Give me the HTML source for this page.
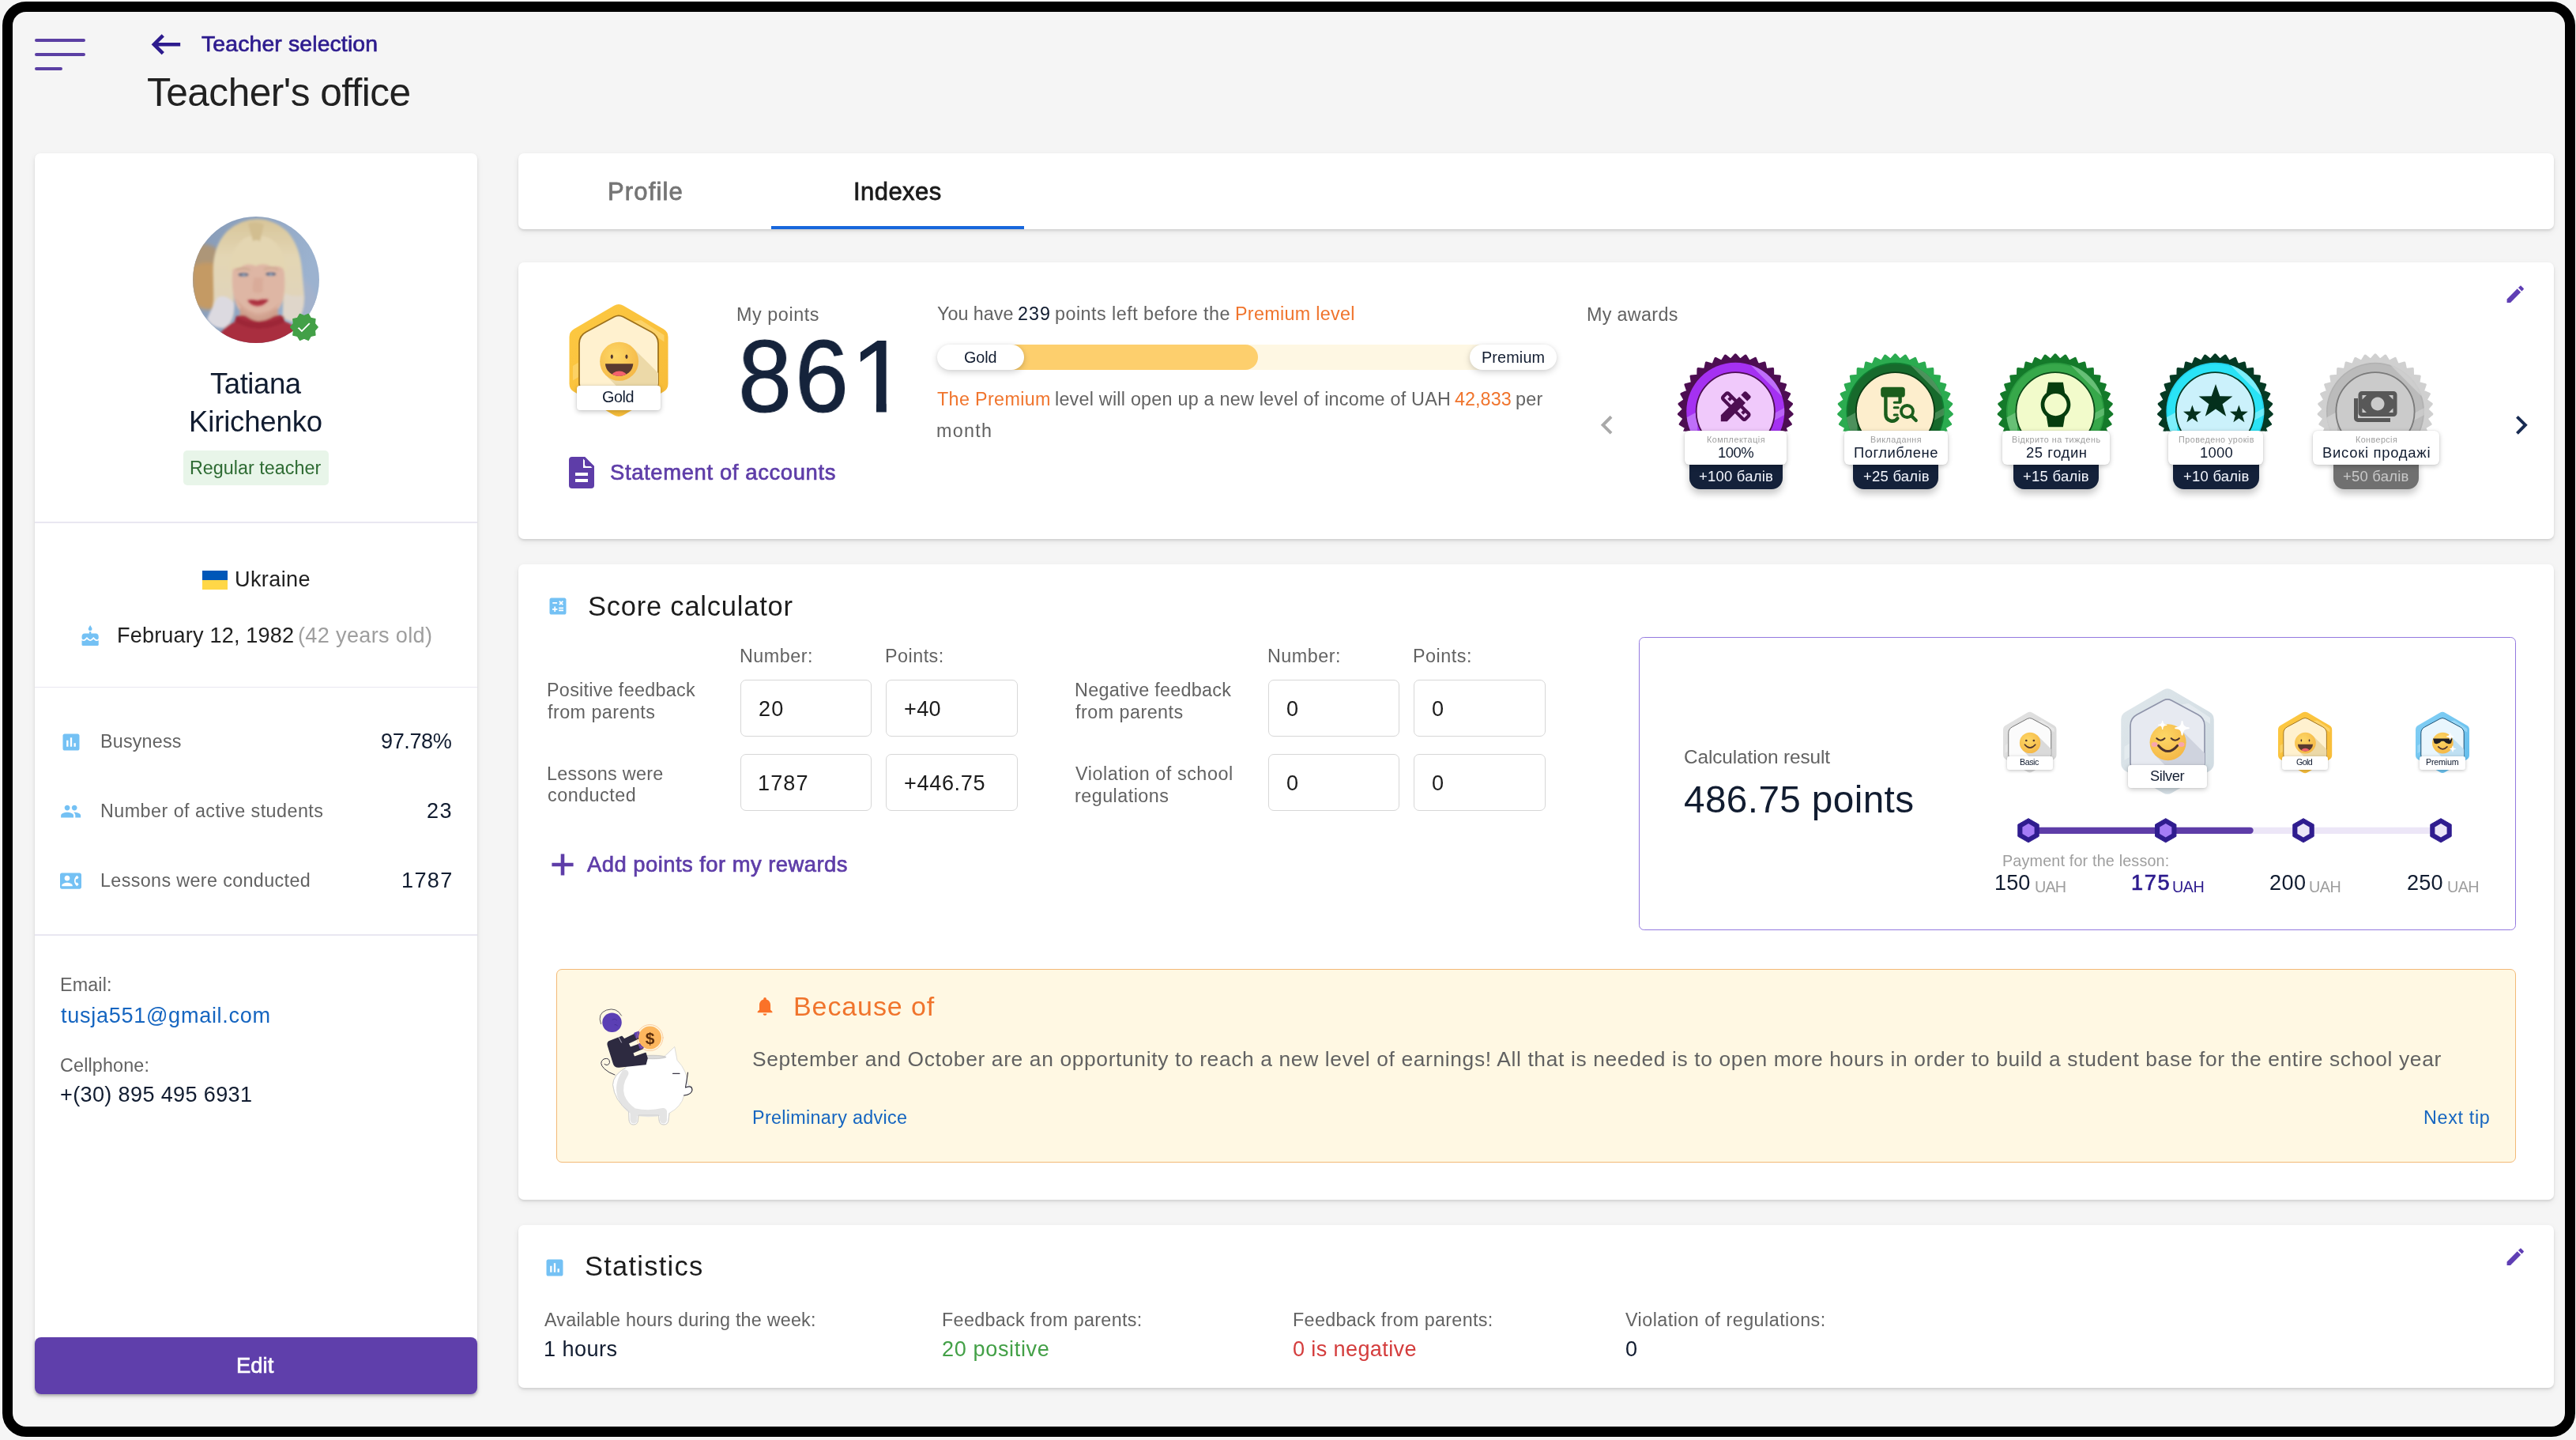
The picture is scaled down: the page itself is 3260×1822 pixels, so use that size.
<!DOCTYPE html>
<html lang="en"><head><meta charset="utf-8"><title>Teacher's office</title>
<style>
*{box-sizing:border-box;margin:0;padding:0}
html,body{width:3260px;height:1822px;overflow:hidden;background:#f5f5f5}
body{position:relative;font-family:"Liberation Sans",sans-serif;-webkit-font-smoothing:antialiased}
h1,h2{font-weight:400;font-size:inherit;display:inline}
.frame{position:absolute;left:3px;top:2px;width:3256px;height:1816px;border:13px solid #000;border-radius:30px;pointer-events:none;z-index:50}
.t{position:absolute;white-space:nowrap;line-height:1;display:block;will-change:transform}
svg{position:absolute;overflow:visible}
.nar{transform:scaleX(.94);transform-origin:0 0}
.one{clip-path:polygon(0 0,44.8px 0,44.8px 140px,32px 140px,32px 97.4px,0 97.4px)}
.card{position:absolute;background:#fff;border-radius:7px;box-shadow:0 2px 3px rgba(0,0,0,.10),0 3px 8px rgba(0,0,0,.07)}
.burger i{position:absolute;left:44px;height:3.9px;border-radius:2px;background:#5b3fa3}
.pill{position:absolute;background:#e8f5e9;border-radius:5px}
.hr{position:absolute;left:44px;width:560px;height:1.5px;background:#e9e7f1}
.flag{position:absolute;width:32px;height:24px;background:linear-gradient(#0057b8 50%,#ffd747 50%)}
.btn{position:absolute;background:#5f3fab;border-radius:8px;box-shadow:0 2px 4px rgba(0,0,0,.2)}
.ink{position:absolute;background:#1867dc}
.lab{position:absolute;background:#fff;border-radius:6px;box-shadow:0 2px 6px rgba(0,0,0,.22),0 0 2px rgba(0,0,0,.12)}
.lab.s{border-radius:3px;box-shadow:0 1px 4px rgba(0,0,0,.25)}
.tag{position:absolute;border-radius:0 0 14px 14px;box-shadow:0 6px 10px rgba(0,0,0,.22)}
.bar{position:absolute;border-radius:16px;background:#fef7e3;overflow:hidden}
.bar b{display:block;height:100%;background:#fdcf6d;border-radius:0 16px 16px 0}
.chip{position:absolute;background:#fff;border-radius:16px;box-shadow:0 3px 8px rgba(0,0,0,.17),0 0 5px rgba(0,0,0,.06)}
.inp{position:absolute;border:1.75px solid #d7d7d7;border-radius:7px;background:#fff}
.result{position:absolute;border:1.75px solid #9479df;border-radius:6.5px}
.tip{position:absolute;border:1.75px solid #f3b976;border-radius:7px;background:#fff8e3}
</style></head>
<body>

<header>
  <div class="burger"><i style="top:49px;width:64px"></i><i style="top:67px;width:64px"></i><i style="top:85px;width:35px"></i></div>
  <svg style="left:0;top:0" width="300" height="100" viewBox="0 0 300 100"><path d="M228.2 56.25H196 M206.3 44.8 L194.9 56.25 L206.3 67.7" fill="none" stroke="#2d1b8e" stroke-width="4.6" stroke-linejoin="miter"/></svg>
  <span class="t" style="left:254.50px;top:41.00px;font-size:28.42px;color:#2d1b8e;letter-spacing:0.124px;-webkit-text-stroke:0.7px #2d1b8e;">Teacher selection</span>
  <h1><span class="t" style="left:186.00px;top:93.25px;font-size:49.63px;color:#212121;letter-spacing:-0.549px;">Teacher&#x27;s office</span></h1>
</header>
<aside class="card" style="left:44px;top:194px;width:560px;height:1570px"></aside>
<section class="profile">
  <svg style="left:244px;top:274px" width="160" height="160" viewBox="244 274 160 160">
<defs><clipPath id="avc"><circle cx="324" cy="354" r="80"/></clipPath>
<filter id="avb" x="-20%" y="-20%" width="140%" height="140%"><feGaussianBlur stdDeviation="22"/></filter>
<filter id="avs" x="-20%" y="-20%" width="140%" height="140%"><feGaussianBlur stdDeviation="11"/></filter>
<linearGradient id="avbg" x1="0" y1="0" x2="1" y2=".3"><stop offset="0" stop-color="#8a9eba"/><stop offset="1" stop-color="#a2b9d6"/></linearGradient>
<linearGradient id="avh" x1="0" y1="0" x2="0" y2="1"><stop offset="0" stop-color="#e2cd9c"/><stop offset=".35" stop-color="#eedfb8"/><stop offset="1" stop-color="#e9dcc4"/></linearGradient></defs>
<g clip-path="url(#avc)"><rect x="244" y="274" width="160" height="160" fill="url(#avbg)"/>
<g transform="translate(234 264) scale(.125)">
<g filter="url(#avb)">
<path d="M60 420 Q200 380 330 420 L340 1000 Q200 1060 80 960Z" fill="#cd9f62"/>
<path d="M60 380 Q200 330 320 400 L320 560 Q180 520 60 600Z" fill="#b49a78"/>
<path d="M1180 700 Q1300 760 1360 1000 L1200 1200 L1150 1000Z" fill="#a9b8d2"/>
</g>
<g filter="url(#avs)">
<path d="M285 640 Q280 380 430 225 Q580 100 740 106 Q900 108 1040 235 Q1165 380 1185 620 L1210 900 Q1210 1060 1130 1140 Q1040 1150 990 1090 L1000 700 L480 700 L500 1000 Q500 1130 420 1200 Q300 1230 230 1120 Q300 1000 290 850Z" fill="url(#avh)"/>
<path d="M330 900 Q250 1050 225 1120 Q300 1230 420 1200 Q500 1120 500 960 Q420 860 330 900Z" fill="#e7e3e8"/>
<path d="M1010 860 Q1100 900 1195 880 Q1215 1060 1130 1140 Q1040 1150 990 1090Z" fill="#eadfd0"/>
<path d="M480 660 Q480 560 560 540 L940 540 Q1010 580 1010 700 Q1020 900 960 1000 Q860 1120 740 1118 Q620 1120 540 1010 Q470 900 480 660Z" fill="#e9bda7"/>
<path d="M520 900 Q560 1060 740 1118 Q900 1080 960 940 Q900 1040 740 1060 Q600 1040 520 900Z" fill="#e0ad98"/>
<path d="M440 640 Q450 420 600 300 Q720 240 860 300 Q1020 400 1030 640 Q960 560 880 590 Q800 540 720 580 Q620 540 560 600 Q480 600 440 640Z" fill="#efdfb6"/>
<path d="M640 150 Q720 120 800 160 L760 330 Q720 300 690 330Z" fill="#dcc592"/>
<path d="M560 1000 Q740 1180 940 1000 L950 1200 L550 1200Z" fill="#d9a58f"/>
<path d="M300 1440 Q340 1200 500 1150 L520 1090 Q600 1060 640 1100 Q740 1170 860 1110 Q940 1060 1000 1090 L1010 1140 Q1180 1200 1240 1440Z" fill="#b02b3b"/>
<path d="M520 1090 Q740 1220 1000 1090 L1010 1150 Q740 1280 510 1150Z" fill="#a32232"/>
</g>
<g filter="url(#avs)">
<ellipse cx="592" cy="668" rx="52" ry="17" fill="#56627e"/><ellipse cx="870" cy="662" rx="52" ry="17" fill="#56627e"/>
<ellipse cx="596" cy="672" rx="20" ry="13" fill="#8ea3c0"/><ellipse cx="870" cy="667" rx="20" ry="13" fill="#8ea3c0"/>
<path d="M520 620 Q590 590 660 620" stroke="#cfa98a" stroke-width="12" fill="none"/><path d="M800 615 Q870 585 945 618" stroke="#cfa98a" stroke-width="12" fill="none"/>
<path d="M700 700 Q680 800 690 840 Q740 870 790 838 Q780 800 790 700" fill="#e2ae98" opacity=".8"/>
<path d="M632 925 Q690 915 735 930 Q790 912 850 922 Q800 985 735 985 Q670 985 632 925Z" fill="#bb3140"/>
<path d="M650 935 Q735 965 835 930" stroke="#8f1f2c" stroke-width="7" fill="none"/>
</g>
</g>
<rect x="244" y="274" width="160" height="160" fill="#56607c" opacity=".07"/>
</g></svg>
  <svg style="left:365.50px;top:395.30px" width="37.80" height="37.80" viewBox="0 0 24 24" ><circle cx="12" cy="12" r="7" fill="#fff"/><path d="M23 12l-2.44-2.79.34-3.69-3.61-.82-1.89-3.2L12 2.96 8.6 1.5 6.71 4.69 3.1 5.5l.34 3.7L1 12l2.44 2.79-.34 3.7 3.61.82L8.6 22.5l3.4-1.47 3.4 1.46 1.89-3.19 3.61-.82-.34-3.69L23 12zm-12.91 4.72l-3.8-3.81 1.48-1.48 2.32 2.33 5.85-5.87 1.48 1.48-7.33 7.35z" fill="#43a047" stroke="#43a047" stroke-width=".9" stroke-linejoin="round"/></svg>
  <span class="t" style="left:266.25px;top:468.25px;font-size:36.54px;color:#111c30;letter-spacing:-0.455px;">Tatiana</span>
  <span class="t" style="left:239.00px;top:515.75px;font-size:36.54px;color:#111c30;letter-spacing:-0.166px;">Kirichenko</span>
  <div class="pill" style="left:232px;top:570px;width:183.75px;height:43.75px"></div>
  <span class="t" style="left:240.25px;top:581.00px;font-size:23.34px;color:#2e6b33;letter-spacing:0.020px;">Regular teacher</span>
  <div class="hr" style="top:660px"></div>
  <div class="flag" style="left:256px;top:722px"></div>
  <span class="t" style="left:296.75px;top:718.75px;font-size:27.1px;color:#212121;letter-spacing:0.368px;">Ukraine</span>
  <svg style="left:100.20px;top:791.25px" width="28.30" height="28.30" viewBox="0 0 24 24" ><path d="M12 6c1.11 0 2-.9 2-2 0-.38-.1-.73-.29-1.03L12 0l-1.71 2.97c-.19.3-.29.65-.29 1.03 0 1.1.9 2 2 2zm4.6 9.99l-1.07-1.07-1.08 1.07c-1.3 1.3-3.58 1.31-4.89 0l-1.07-1.07-1.09 1.07C6.75 16.64 5.88 17 4.96 17c-.73 0-1.4-.23-1.96-.61V21c0 .55.45 1 1 1h16c.55 0 1-.45 1-1v-4.61c-.56.38-1.23.61-1.96.61-.92 0-1.79-.36-2.44-1.01zM18 9h-5V7h-2v2H6c-1.66 0-3 1.34-3 3v1.54c0 1.08.88 1.96 1.96 1.96.52 0 1.02-.2 1.38-.57l2.14-2.13 2.13 2.13c.74.74 2.03.74 2.77 0l2.14-2.13 2.13 2.13c.37.37.86.57 1.38.57 1.08 0 1.96-.88 1.96-1.96V12C21 10.34 19.66 9 18 9z" fill="#74c1f4"/></svg>
  <span class="t" style="left:147.50px;top:789.50px;font-size:27.1px;color:#212121;letter-spacing:0.166px;">February 12, 1982</span>
  <span class="t" style="left:377.25px;top:789.50px;font-size:27.1px;color:#9e9e9e;letter-spacing:0.337px;">(42 years old)</span>
  <div class="hr" style="top:868.5px"></div>
  <svg style="left:75.50px;top:924.50px" width="28.00" height="28.00" viewBox="0 0 24 24" ><path d="M19 3H5c-1.1 0-2 .9-2 2v14c0 1.1.9 2 2 2h14c1.1 0 2-.9 2-2V5c0-1.1-.9-2-2-2zM9 17H7v-7h2v7zm4 0h-2V7h2v10zm4 0h-2v-4h2v4z" fill="#74c1f4"/></svg>
  <span class="t" style="left:127.00px;top:926.50px;font-size:23.34px;color:#626262;letter-spacing:0.182px;">Busyness</span>
  <span class="t" style="left:481.50px;top:923.75px;font-size:27.1px;color:#111c30;letter-spacing:-0.410px;">97.78%</span>
  <svg style="left:75.86px;top:1012.57px" width="27.30" height="27.30" viewBox="0 0 24 24" ><path d="M16 11c1.66 0 2.99-1.34 2.99-3S17.66 5 16 5c-1.66 0-3 1.34-3 3s1.34 3 3 3zm-8 0c1.66 0 2.99-1.34 2.99-3S9.66 5 8 5C6.34 5 5 6.34 5 8s1.34 3 3 3zm0 2c-2.33 0-7 1.17-7 3.5V19h14v-2.5c0-2.33-4.67-3.5-7-3.5zm8 0c-.29 0-.62.02-.97.05 1.16.84 1.97 1.97 1.97 3.45V19h6v-2.5c0-2.33-4.67-3.5-7-3.5z" fill="#74c1f4"/></svg>
  <span class="t" style="left:127.00px;top:1014.75px;font-size:23.34px;color:#626262;letter-spacing:0.455px;">Number of active students</span>
  <span class="t" style="left:540.25px;top:1012.00px;font-size:27.1px;color:#111c30;letter-spacing:1.432px;">23</span>
  <svg style="left:76.00px;top:1100.90px" width="27.00" height="27.00" viewBox="0 0 24 24" ><path d="M22 3H2C.9 3 0 3.9 0 5v14c0 1.1.9 2 2 2h20c1.1 0 1.99-.9 1.99-2L24 5c0-1.1-.9-2-2-2zM8 6c1.66 0 3 1.34 3 3s-1.34 3-3 3-3-1.34-3-3 1.34-3 3-3zm6 12H2v-1c0-2 4-3.1 6-3.1s6 1.1 6 3.1v1zm3.85-4h1.64L21 16l-1.99 1.99c-1.31-.98-2.28-2.38-2.73-3.99-.18-.64-.28-1.31-.28-2s.1-1.36.28-2c.45-1.62 1.42-3.01 2.73-3.99L21 8l-1.51 2h-1.64c-.22.63-.35 1.3-.35 2s.13 1.37.35 2z" fill="#74c1f4"/></svg>
  <span class="t" style="left:127.00px;top:1103.00px;font-size:23.34px;color:#626262;letter-spacing:0.365px;">Lessons were conducted</span>
  <span class="t" style="left:508.00px;top:1100.00px;font-size:27.1px;color:#111c30;letter-spacing:1.348px;">1787</span>
  <div class="hr" style="top:1182px"></div>
  <span class="t" style="left:76.00px;top:1234.75px;font-size:23.34px;color:#626262;letter-spacing:0.134px;">Email:</span>
  <span class="t" style="left:76.50px;top:1270.75px;font-size:27.1px;color:#1565c0;letter-spacing:0.687px;">tusja551@gmail.com</span>
  <span class="t" style="left:76.00px;top:1337.25px;font-size:23.34px;color:#626262;letter-spacing:0.160px;">Cellphone:</span>
  <span class="t" style="left:76.00px;top:1371.25px;font-size:27.1px;color:#111c30;letter-spacing:0.341px;">+(30) 895 495 6931</span>
  <div class="btn" style="left:44px;top:1692px;width:560px;height:72px"></div>
  <span class="t" style="left:299.25px;top:1713.75px;font-size:27.4px;color:#fff;letter-spacing:0.054px;-webkit-text-stroke:0.7px #fff;">Edit</span>
</section>
<nav class="card" style="left:656px;top:194px;width:2576px;height:96px"></nav>
<div class="tabs">
  <span class="t" style="left:768.50px;top:227.50px;font-size:30.96px;color:#757575;letter-spacing:1.163px;-webkit-text-stroke:0.8px #757575;">Profile</span>
  <span class="t" style="left:1080.00px;top:227.50px;font-size:30.96px;color:#1a1a1a;letter-spacing:0.469px;-webkit-text-stroke:0.8px #1a1a1a;">Indexes</span>
  <div class="ink" style="left:976px;top:286px;width:320px;height:4px"></div>
</div>
<section class="card" style="left:656px;top:332px;width:2576px;height:350px"></section>
<section class="points">
  <svg style="left:0;top:0" width="3260" height="1200" viewBox="0 0 3260 1200"><defs><linearGradient id="hg1" x1="0" y1="0" x2="1" y2="1"><stop offset="0" stop-color="#fdc942"/><stop offset="1" stop-color="#f7bb38"/></linearGradient><radialGradient id="hg1e" cx=".4" cy=".35" r=".75"><stop offset="0" stop-color="#fdd766"/><stop offset="1" stop-color="#f4b544"/></radialGradient><clipPath id="hg1c"><path d="M777.50 400.79 Q783.00 397.82 788.50 400.79 L824.20 420.02 Q833.00 424.76 833.00 434.76 L833.00 484.88 Q833.00 493.63 824.25 493.63 L741.75 493.63 Q733.00 493.63 733.00 484.88 L733.00 434.76 Q733.00 424.76 741.80 420.02Z"/></clipPath></defs><path d="M777.06 386.74 Q783.00 383.28 788.94 386.74 L839.56 416.18 Q845.50 419.64 845.50 426.52 L845.50 485.48 Q845.50 492.36 839.56 495.82 L788.94 525.26 Q783.00 528.72 777.06 525.26 L726.44 495.82 Q720.50 492.36 720.50 485.48 L720.50 426.52 Q720.50 419.64 726.44 416.18Z" fill="url(#hg1)"/><path d="M811.12 404.88 L840.50 424.05 L840.50 432.57 L801.75 406.30Z" fill="#fde08a" opacity=".55"/><path d="M724.88 463.10 L731.75 458.84 V477.30 L724.88 481.56Z" fill="#fde08a" opacity=".5"/><path d="M777.50 400.79 Q783.00 397.82 788.50 400.79 L824.20 420.02 Q833.00 424.76 833.00 434.76 L833.00 484.88 Q833.00 493.63 824.25 493.63 L741.75 493.63 Q733.00 493.63 733.00 484.88 L733.00 434.76 Q733.00 424.76 741.80 420.02Z" fill="#fff1cf" stroke="#9c701c" stroke-width="1.75" stroke-linejoin="round"/><g clip-path="url(#hg1c)"><path d="M800.95 439.93 L988.45 627.43 L953.80 662.07 L766.30 474.57Z" fill="#ecd9a8"/></g><circle cx="783.62" cy="457.25" r="24.50" fill="url(#hg1e)"/><ellipse cx="774.32" cy="451.37" rx="1.52" ry="2.82" fill="#4e342e"/><ellipse cx="792.93" cy="451.37" rx="1.52" ry="2.82" fill="#4e342e"/><clipPath id="hg1m"><path d="M765.99 460.19 H801.26 A17.64 16.17 0 0 1 765.99 460.19Z"/></clipPath><path d="M765.99 460.19 H801.26 A17.64 16.17 0 0 1 765.99 460.19Z" fill="#5a3a30"/><ellipse clip-path="url(#hg1m)" cx="783.62" cy="476.85" rx="10.29" ry="7.35" fill="#f3616d"/></svg>
  <div class="lab" style="left:730px;top:488px;width:105.75px;height:30.75px;border-radius:4px"></div>
  <span class="t" style="left:762.25px;top:492.75px;font-size:19.79px;color:#111c30;letter-spacing:-0.428px;">Gold</span>
  <span class="t" style="left:932.00px;top:386.50px;font-size:23.34px;color:#626262;letter-spacing:0.573px;">My points</span>
  <span class="t nar" style="left:934.40px;top:411.75px;font-size:129.92px;color:#15233b;-webkit-text-stroke:1.1px #15233b;">8</span><span class="t nar" style="left:1006.20px;top:411.75px;font-size:129.92px;color:#15233b;-webkit-text-stroke:1.1px #15233b;">6</span><span class="t one" style="left:1077.30px;top:411.75px;font-size:129.92px;color:#15233b;-webkit-text-stroke:1.1px #15233b;">1</span>
  <svg style="left:720px;top:578px" width="32" height="40" viewBox="0 0 32 40"><path d="M4 0H20L32 12V36a4 4 0 0 1-4 4H4a4 4 0 0 1-4-4V4a4 4 0 0 1 4-4z" fill="#5e3da8"/><path d="M18 2.5V14H29.5z" fill="#fff"/><path d="M20 0L32 12H22a2 2 0 0 1-2-2z" fill="#5e3da8"/><rect x="8" y="20" width="16" height="4" fill="#fff"/><rect x="8" y="28" width="16" height="4" fill="#fff"/></svg>
  <span class="t" style="left:771.50px;top:584.00px;font-size:27.4px;color:#5e3da8;letter-spacing:0.645px;-webkit-text-stroke:0.7px #5e3da8;">Statement of accounts</span>
  <span class="t" style="left:1186.25px;top:386.00px;font-size:23.34px;color:#626262;letter-spacing:0.006px;">You have</span>
  <span class="t" style="left:1288.25px;top:386.00px;font-size:23.34px;color:#111c30;letter-spacing:1.026px;">239</span>
  <span class="t" style="left:1335.25px;top:386.00px;font-size:23.34px;color:#626262;letter-spacing:0.480px;">points left before the</span>
  <span class="t" style="left:1562.75px;top:386.00px;font-size:23.34px;color:#f0742c;letter-spacing:0.304px;">Premium level</span>
  <div class="bar" style="left:1200px;top:436.25px;width:766px;height:31.25px"><b style="width:392px"></b></div>
  <div class="chip" style="left:1186.25px;top:436.25px;width:109.75px;height:31.25px"></div>
  <div class="chip" style="left:1859.7px;top:436.25px;width:110px;height:31.25px"></div>
  <span class="t" style="left:1220.25px;top:442.75px;font-size:19.79px;color:#111c30;letter-spacing:-0.094px;">Gold</span>
  <span class="t" style="left:1874.75px;top:442.75px;font-size:19.79px;color:#111c30;letter-spacing:0.149px;">Premium</span>
  <span class="t" style="left:1186.25px;top:494.00px;font-size:23.34px;color:#f0742c;letter-spacing:0.343px;">The Premium</span>
  <span class="t" style="left:1334.75px;top:494.00px;font-size:23.34px;color:#626262;letter-spacing:0.232px;">level will open up a new level of income of UAH</span>
  <span class="t" style="left:1840.90px;top:494.00px;font-size:23.34px;color:#f0742c;letter-spacing:0.065px;">42,833</span>
  <span class="t" style="left:1918.00px;top:494.00px;font-size:23.34px;color:#626262;letter-spacing:0.326px;">per</span>
  <span class="t" style="left:1185.25px;top:534.25px;font-size:23.34px;color:#626262;letter-spacing:1.285px;">month</span>
  <span class="t" style="left:2008.25px;top:386.75px;font-size:23.34px;color:#626262;letter-spacing:0.329px;">My awards</span>
  <svg style="left:3168.60px;top:357.50px" width="28.50" height="28.50" viewBox="0 0 24 24" ><path d="M3 17.25V21h3.750L17.810 9.940l-3.750-3.750L3 17.250zM20.710 7.040c.39-.39.39-1.020 0-1.410l-2.340-2.340c-.39-.39-1.020-.39-1.410 0l-1.830 1.830 3.750 3.750 1.830-1.830z" fill="#5f3eb4"/></svg>
  <svg style="left:2009.50px;top:514.25px" width="47.40" height="47.40" viewBox="0 0 24 24" ><path d="M15.41 7.41L14 6l-6 6 6 6 1.41-1.41L10.83 12z" fill="#a9a9a9"/></svg>
  <svg style="left:3166.80px;top:514.20px" width="47.60" height="47.60" viewBox="0 0 24 24" ><path d="M10 6L8.59 7.41 13.17 12l-4.58 4.59L10 18l6-6z" fill="#182b52"/></svg>
  <svg style="left:0;top:0" width="3260" height="700" viewBox="0 0 3260 700"><defs><clipPath id="awc0"><rect x="2116.25" y="440" width="160" height="105.5"/></clipPath><clipPath id="awc0r"><path fill-rule="evenodd" d="M2134.25 520.75 a62 62 0 1 0 124 0 a62 62 0 1 0 -124 0z M2145.75 520.75 a50.5 50.5 0 1 0 101 0 a50.5 50.5 0 1 0 -101 0z"/></clipPath></defs><g clip-path="url(#awc0)"><polygon points="2196.25,448.95 2202.13,455.41 2209.07,450.10 2213.70,457.51 2221.48,453.53 2224.71,461.65 2233.08,459.11 2234.81,467.68 2243.49,466.68 2243.67,475.42 2252.39,475.98 2251.00,484.61 2259.48,486.73 2256.57,494.97 2264.54,498.56 2260.21,506.15 2267.40,511.11 2261.78,517.81 2267.98,523.97 2261.26,529.56 2266.25,536.73 2258.64,541.02 2262.27,548.97 2254.02,551.84 2256.17,560.30 2247.54,561.65 2248.15,570.37 2239.41,570.15 2238.45,578.84 2229.90,577.06 2227.40,585.44 2219.30,582.17 2215.35,589.96 2207.96,585.30 2202.69,592.26 2196.25,586.35 2189.81,592.26 2184.54,585.30 2177.15,589.96 2173.20,582.17 2165.10,585.44 2162.60,577.06 2154.05,578.84 2153.09,570.15 2144.35,570.37 2144.96,561.65 2136.33,560.30 2138.48,551.84 2130.23,548.97 2133.86,541.02 2126.25,536.73 2131.24,529.56 2124.52,523.97 2130.72,517.81 2125.10,511.11 2132.29,506.15 2127.96,498.56 2135.93,494.97 2133.02,486.73 2141.50,484.61 2140.11,475.98 2148.83,475.42 2149.01,466.68 2157.69,467.68 2159.42,459.11 2167.79,461.65 2171.02,453.53 2178.80,457.51 2183.43,450.10 2190.37,455.41" fill="#4d0e52" stroke="#4d0e52" stroke-width="3.2" stroke-linejoin="round"/><circle cx="2196.25" cy="520.75" r="62" fill="#a531f2"/><circle cx="2196.25" cy="520.75" r="60.3" fill="#a531f2"/><g clip-path="url(#awc0r)" fill="#c884fb" opacity=".75"><path d="M2204.25 450.75 l14 0 l50 50 l0 14z"/><path d="M2226.25 450.75 l7 0 l40 40 l0 7z" opacity=".7"/><path d="M2242.25 524.75 l22 -12 l0 9 l-22 12z" opacity=".8"/><path d="M2126.25 532.75 l22 -12 l0 28 l-22 12z"/></g><circle cx="2196.25" cy="520.75" r="49.6" fill="#f0c9fb" stroke="#4d0e52" stroke-width="1.8"/><g transform="translate(2171.50 488.95) scale(2.1042)"><path d="M16.24 11.51l1.57-1.57-3.75-3.75-1.57 1.57-4.14-4.13c-.78-.78-2.05-.78-2.83 0l-1.9 1.9c-.78.78-.78 2.05 0 2.83l4.13 4.13L3 17.25V21h3.750l4.760-4.760 4.130 4.130c.95.95 2.230.6 2.830 0l1.900-1.900c.78-.78.78-2.050 0-2.830l-4.130-4.130zM9.180 11.070L5.040 6.940l1.890-1.900L8.200 6.310 7.020 7.500l1.410 1.410 1.190-1.190 1.450 1.450-1.890 1.900zm7.880 7.890l-4.130-4.130 1.900-1.900 1.450 1.450-1.190 1.190 1.410 1.410 1.190-1.190 1.270 1.270-1.900 1.900zM20.710 7.040c.39-.39.39-1.020 0-1.410l-2.340-2.340c-.47-.47-1.120-.29-1.410 0l-1.830 1.830 3.750 3.750 1.830-1.830z" fill="#4d0e52"/></g></g></svg>
  <svg style="left:0;top:0" width="3260" height="700" viewBox="0 0 3260 700"><defs><clipPath id="awc1"><rect x="2318.5" y="440" width="160" height="105.5"/></clipPath><clipPath id="awc1r"><path fill-rule="evenodd" d="M2336.5 520.75 a62 62 0 1 0 124 0 a62 62 0 1 0 -124 0z M2348.0 520.75 a50.5 50.5 0 1 0 101 0 a50.5 50.5 0 1 0 -101 0z"/></clipPath></defs><g clip-path="url(#awc1)"><polygon points="2398.50,448.95 2404.38,455.41 2411.32,450.10 2415.95,457.51 2423.73,453.53 2426.96,461.65 2435.33,459.11 2437.06,467.68 2445.74,466.68 2445.92,475.42 2454.64,475.98 2453.25,484.61 2461.73,486.73 2458.82,494.97 2466.79,498.56 2462.46,506.15 2469.65,511.11 2464.03,517.81 2470.23,523.97 2463.51,529.56 2468.50,536.73 2460.89,541.02 2464.52,548.97 2456.27,551.84 2458.42,560.30 2449.79,561.65 2450.40,570.37 2441.66,570.15 2440.70,578.84 2432.15,577.06 2429.65,585.44 2421.55,582.17 2417.60,589.96 2410.21,585.30 2404.94,592.26 2398.50,586.35 2392.06,592.26 2386.79,585.30 2379.40,589.96 2375.45,582.17 2367.35,585.44 2364.85,577.06 2356.30,578.84 2355.34,570.15 2346.60,570.37 2347.21,561.65 2338.58,560.30 2340.73,551.84 2332.48,548.97 2336.11,541.02 2328.50,536.73 2333.49,529.56 2326.77,523.97 2332.97,517.81 2327.35,511.11 2334.54,506.15 2330.21,498.56 2338.18,494.97 2335.27,486.73 2343.75,484.61 2342.36,475.98 2351.08,475.42 2351.26,466.68 2359.94,467.68 2361.67,459.11 2370.04,461.65 2373.27,453.53 2381.05,457.51 2385.68,450.10 2392.62,455.41" fill="#2bab50" stroke="#2bab50" stroke-width="3.2" stroke-linejoin="round"/><circle cx="2398.5" cy="520.75" r="62" fill="#0f7d31"/><circle cx="2398.5" cy="520.75" r="60.3" fill="#176a2c"/><g clip-path="url(#awc1r)" fill="#5f9f6c" opacity=".75"><path d="M2406.5 450.75 l14 0 l50 50 l0 14z"/><path d="M2428.5 450.75 l7 0 l40 40 l0 7z" opacity=".7"/><path d="M2444.5 524.75 l22 -12 l0 9 l-22 12z" opacity=".8"/><path d="M2328.5 532.75 l22 -12 l0 28 l-22 12z"/></g><circle cx="2398.5" cy="520.75" r="49.6" fill="#fdeecd" stroke="#0b3d14" stroke-width="1.8"/><g fill="none" stroke="#1b5e1c" stroke-linecap="round"><rect x="2380.2" y="489.7" width="30.6" height="12.8" rx="3.6" fill="#1b5e1c" stroke="none"/><path d="M2386.3999999999996 501.7 V524.7 a8.3 8.3 0 0 0 15 4.6" stroke-width="4.4"/><path d="M2404.6 501.7 V508.2" stroke-width="4.4"/><path d="M2397.2 509.3 H2404.3999999999996 M2397.2 515.7 H2402.2 M2397.2 524.9 H2401.2" stroke-width="3"/><circle cx="2413.5" cy="520.5" r="7.5" stroke-width="3.8"/><path d="M2418.7999999999997 526.1 L2424.7999999999997 532.1" stroke-width="4.2"/></g></g></svg>
  <svg style="left:0;top:0" width="3260" height="700" viewBox="0 0 3260 700"><defs><clipPath id="awc2"><rect x="2521" y="440" width="160" height="105.5"/></clipPath><clipPath id="awc2r"><path fill-rule="evenodd" d="M2539 520.75 a62 62 0 1 0 124 0 a62 62 0 1 0 -124 0z M2550.5 520.75 a50.5 50.5 0 1 0 101 0 a50.5 50.5 0 1 0 -101 0z"/></clipPath></defs><g clip-path="url(#awc2)"><polygon points="2601.00,448.95 2606.88,455.41 2613.82,450.10 2618.45,457.51 2626.23,453.53 2629.46,461.65 2637.83,459.11 2639.56,467.68 2648.24,466.68 2648.42,475.42 2657.14,475.98 2655.75,484.61 2664.23,486.73 2661.32,494.97 2669.29,498.56 2664.96,506.15 2672.15,511.11 2666.53,517.81 2672.73,523.97 2666.01,529.56 2671.00,536.73 2663.39,541.02 2667.02,548.97 2658.77,551.84 2660.92,560.30 2652.29,561.65 2652.90,570.37 2644.16,570.15 2643.20,578.84 2634.65,577.06 2632.15,585.44 2624.05,582.17 2620.10,589.96 2612.71,585.30 2607.44,592.26 2601.00,586.35 2594.56,592.26 2589.29,585.30 2581.90,589.96 2577.95,582.17 2569.85,585.44 2567.35,577.06 2558.80,578.84 2557.84,570.15 2549.10,570.37 2549.71,561.65 2541.08,560.30 2543.23,551.84 2534.98,548.97 2538.61,541.02 2531.00,536.73 2535.99,529.56 2529.27,523.97 2535.47,517.81 2529.85,511.11 2537.04,506.15 2532.71,498.56 2540.68,494.97 2537.77,486.73 2546.25,484.61 2544.86,475.98 2553.58,475.42 2553.76,466.68 2562.44,467.68 2564.17,459.11 2572.54,461.65 2575.77,453.53 2583.55,457.51 2588.18,450.10 2595.12,455.41" fill="#147a2a" stroke="#147a2a" stroke-width="3.2" stroke-linejoin="round"/><circle cx="2601" cy="520.75" r="62" fill="#2a9a40"/><circle cx="2601" cy="520.75" r="60.3" fill="#37a84a"/><g clip-path="url(#awc2r)" fill="#79c886" opacity=".75"><path d="M2609 450.75 l14 0 l50 50 l0 14z"/><path d="M2631 450.75 l7 0 l40 40 l0 7z" opacity=".7"/><path d="M2647 524.75 l22 -12 l0 9 l-22 12z" opacity=".8"/><path d="M2531 532.75 l22 -12 l0 28 l-22 12z"/></g><circle cx="2601" cy="520.75" r="49.6" fill="#f2fbcb" stroke="#0c4a18" stroke-width="1.8"/><g transform="translate(2573.25 483.75) scale(2.3542)"><path d="M20 12c0-2.54-1.19-4.81-3.04-6.27L16 0H8l-.95 5.73C5.19 7.19 4 9.45 4 12s1.19 4.81 3.05 6.27L8 24h8l.96-5.73C18.81 16.81 20 14.54 20 12zM6 12c0-3.31 2.69-6 6-6s6 2.69 6 6-2.69 6-6 6-6-2.69-6-6z" fill="#063d0e"/></g></g></svg>
  <svg style="left:0;top:0" width="3260" height="700" viewBox="0 0 3260 700"><defs><clipPath id="awc3"><rect x="2723.4" y="440" width="160" height="105.5"/></clipPath><clipPath id="awc3r"><path fill-rule="evenodd" d="M2741.4 520.75 a62 62 0 1 0 124 0 a62 62 0 1 0 -124 0z M2752.9 520.75 a50.5 50.5 0 1 0 101 0 a50.5 50.5 0 1 0 -101 0z"/></clipPath></defs><g clip-path="url(#awc3)"><polygon points="2803.40,448.95 2809.28,455.41 2816.22,450.10 2820.85,457.51 2828.63,453.53 2831.86,461.65 2840.23,459.11 2841.96,467.68 2850.64,466.68 2850.82,475.42 2859.54,475.98 2858.15,484.61 2866.63,486.73 2863.72,494.97 2871.69,498.56 2867.36,506.15 2874.55,511.11 2868.93,517.81 2875.13,523.97 2868.41,529.56 2873.40,536.73 2865.79,541.02 2869.42,548.97 2861.17,551.84 2863.32,560.30 2854.69,561.65 2855.30,570.37 2846.56,570.15 2845.60,578.84 2837.05,577.06 2834.55,585.44 2826.45,582.17 2822.50,589.96 2815.11,585.30 2809.84,592.26 2803.40,586.35 2796.96,592.26 2791.69,585.30 2784.30,589.96 2780.35,582.17 2772.25,585.44 2769.75,577.06 2761.20,578.84 2760.24,570.15 2751.50,570.37 2752.11,561.65 2743.48,560.30 2745.63,551.84 2737.38,548.97 2741.01,541.02 2733.40,536.73 2738.39,529.56 2731.67,523.97 2737.87,517.81 2732.25,511.11 2739.44,506.15 2735.11,498.56 2743.08,494.97 2740.17,486.73 2748.65,484.61 2747.26,475.98 2755.98,475.42 2756.16,466.68 2764.84,467.68 2766.57,459.11 2774.94,461.65 2778.17,453.53 2785.95,457.51 2790.58,450.10 2797.52,455.41" fill="#053a24" stroke="#053a24" stroke-width="3.2" stroke-linejoin="round"/><circle cx="2803.4" cy="520.75" r="62" fill="#22d0ea"/><circle cx="2803.4" cy="520.75" r="60.3" fill="#2ae3f6"/><g clip-path="url(#awc3r)" fill="#9af4fc" opacity=".75"><path d="M2811.4 450.75 l14 0 l50 50 l0 14z"/><path d="M2833.4 450.75 l7 0 l40 40 l0 7z" opacity=".7"/><path d="M2849.4 524.75 l22 -12 l0 9 l-22 12z" opacity=".8"/><path d="M2733.4 532.75 l22 -12 l0 28 l-22 12z"/></g><circle cx="2803.4" cy="520.75" r="49.6" fill="#cbf1fb" stroke="#053a24" stroke-width="1.8"/><polygon points="2804.00,486.00 2809.29,501.22 2825.40,501.55 2812.56,511.28 2817.23,526.70 2804.00,517.50 2790.77,526.70 2795.44,511.28 2782.60,501.55 2798.71,501.22" fill="#04301c"/><polygon points="2774.40,512.50 2777.22,520.62 2785.81,520.79 2778.97,525.98 2781.45,534.21 2774.40,529.30 2767.35,534.21 2769.83,525.98 2762.99,520.79 2771.58,520.62" fill="#04301c"/><polygon points="2833.40,512.50 2836.22,520.62 2844.81,520.79 2837.97,525.98 2840.45,534.21 2833.40,529.30 2826.35,534.21 2828.83,525.98 2821.99,520.79 2830.58,520.62" fill="#04301c"/></g></svg>
  <svg style="left:0;top:0" width="3260" height="700" viewBox="0 0 3260 700"><defs><clipPath id="awc4"><rect x="2926" y="440" width="160" height="105.5"/></clipPath><clipPath id="awc4r"><path fill-rule="evenodd" d="M2944 520.75 a62 62 0 1 0 124 0 a62 62 0 1 0 -124 0z M2955.5 520.75 a50.5 50.5 0 1 0 101 0 a50.5 50.5 0 1 0 -101 0z"/></clipPath></defs><g clip-path="url(#awc4)"><polygon points="3006.00,448.95 3011.88,455.41 3018.82,450.10 3023.45,457.51 3031.23,453.53 3034.46,461.65 3042.83,459.11 3044.56,467.68 3053.24,466.68 3053.42,475.42 3062.14,475.98 3060.75,484.61 3069.23,486.73 3066.32,494.97 3074.29,498.56 3069.96,506.15 3077.15,511.11 3071.53,517.81 3077.73,523.97 3071.01,529.56 3076.00,536.73 3068.39,541.02 3072.02,548.97 3063.77,551.84 3065.92,560.30 3057.29,561.65 3057.90,570.37 3049.16,570.15 3048.20,578.84 3039.65,577.06 3037.15,585.44 3029.05,582.17 3025.10,589.96 3017.71,585.30 3012.44,592.26 3006.00,586.35 2999.56,592.26 2994.29,585.30 2986.90,589.96 2982.95,582.17 2974.85,585.44 2972.35,577.06 2963.80,578.84 2962.84,570.15 2954.10,570.37 2954.71,561.65 2946.08,560.30 2948.23,551.84 2939.98,548.97 2943.61,541.02 2936.00,536.73 2940.99,529.56 2934.27,523.97 2940.47,517.81 2934.85,511.11 2942.04,506.15 2937.71,498.56 2945.68,494.97 2942.77,486.73 2951.25,484.61 2949.86,475.98 2958.58,475.42 2958.76,466.68 2967.44,467.68 2969.17,459.11 2977.54,461.65 2980.77,453.53 2988.55,457.51 2993.18,450.10 3000.12,455.41" fill="#d0d0d0" stroke="#d0d0d0" stroke-width="3.2" stroke-linejoin="round"/><circle cx="3006" cy="520.75" r="62" fill="#b2b2b2"/><circle cx="3006" cy="520.75" r="60.3" fill="#bbbbbb"/><g clip-path="url(#awc4r)" fill="#d4d4d4" opacity=".75"><path d="M3014 450.75 l14 0 l50 50 l0 14z"/><path d="M3036 450.75 l7 0 l40 40 l0 7z" opacity=".7"/><path d="M3052 524.75 l22 -12 l0 9 l-22 12z" opacity=".8"/><path d="M2936 532.75 l22 -12 l0 28 l-22 12z"/></g><circle cx="3006" cy="520.75" r="49.6" fill="#cbcbcb" stroke="#7a7a7a" stroke-width="1.8"/><g fill="#585858"><path fill-rule="evenodd" d="M2989 495 h40 a4.5 4.5 0 0 1 4.5 4.5 v23 a4.5 4.5 0 0 1 -4.5 4.5 h-40 a4.5 4.5 0 0 1 -4.5 -4.5 v-23 a4.500 4.500 0 0 1 4.500 -4.500z M3009 502.5 a8.5 8.5 0 1 0 0.01 0z M2989.5 500 v5.5 l5.5 -5.5z M3028.5 500 h-5.5 l5.5 5.5z M2989.5 522 v-5.5 l5.5 5.5z M3028.5 522 h-5.5 l5.5 -5.5z"/><path d="M2979 504 v25 a5 5 0 0 0 5 5 h41 v-5 h-41 v-25z"/></g></g></svg>
  
  <div class="tag" style="left:2138px;top:580px;width:117.5px;height:38.75px;background:#14213a"></div>
  <div class="lab" style="left:2132px;top:545px;width:129.25px;height:43px"></div>
  <span class="t" style="left:2160.00px;top:551.00px;font-size:10.76px;color:#9e9e9e;letter-spacing:0.536px;">Комплектація</span>
  <span class="t" style="left:2174.00px;top:563.75px;font-size:18.47px;color:#111c30;letter-spacing:-0.513px;">100%</span>
  <span class="t" style="left:2150.00px;top:594.25px;font-size:18.47px;color:#f4f7ff;letter-spacing:0.226px;">+100 балів</span>
  
  <div class="tag" style="left:2345px;top:580px;width:108.25px;height:38.75px;background:#14213a"></div>
  <div class="lab" style="left:2333.75px;top:545px;width:131.25px;height:43px"></div>
  <span class="t" style="left:2367.00px;top:551.00px;font-size:10.76px;color:#9e9e9e;letter-spacing:0.486px;">Викладання</span>
  <span class="t" style="left:2345.75px;top:563.75px;font-size:18.47px;color:#111c30;letter-spacing:0.485px;">Поглиблене</span>
  <span class="t" style="left:2358.00px;top:594.25px;font-size:18.47px;color:#f4f7ff;letter-spacing:0.256px;">+25 балів</span>
  
  <div class="tag" style="left:2548.2px;top:580px;width:107.40000000000009px;height:38.75px;background:#14213a"></div>
  <div class="lab" style="left:2533.8px;top:545px;width:136.19999999999982px;height:43px"></div>
  <span class="t" style="left:2545.90px;top:551.00px;font-size:10.76px;color:#9e9e9e;letter-spacing:0.500px;">Відкрито на тиждень</span>
  <span class="t" style="left:2564.00px;top:563.75px;font-size:18.47px;color:#111c30;letter-spacing:0.556px;">25 годин</span>
  <span class="t" style="left:2560.00px;top:594.25px;font-size:18.47px;color:#f4f7ff;letter-spacing:0.262px;">+15 балів</span>
  
  <div class="tag" style="left:2750.4px;top:580px;width:108.29999999999973px;height:38.75px;background:#14213a"></div>
  <div class="lab" style="left:2743.9px;top:545px;width:120.09999999999991px;height:43px"></div>
  <span class="t" style="left:2756.70px;top:551.00px;font-size:10.76px;color:#9e9e9e;letter-spacing:0.482px;">Проведено уроків</span>
  <span class="t" style="left:2783.60px;top:563.75px;font-size:18.47px;color:#111c30;letter-spacing:0.204px;">1000</span>
  <span class="t" style="left:2762.80px;top:594.25px;font-size:18.47px;color:#f4f7ff;letter-spacing:0.237px;">+10 балів</span>
  
  <div class="tag" style="left:2953px;top:580px;width:107.90000000000009px;height:38.75px;background:#707070"></div>
  <div class="lab" style="left:2927px;top:545px;width:160px;height:43px"></div>
  <span class="t" style="left:2980.50px;top:551.00px;font-size:10.76px;color:#9e9e9e;letter-spacing:0.426px;">Конверсія</span>
  <span class="t" style="left:2938.80px;top:563.75px;font-size:18.47px;color:#111c30;letter-spacing:0.715px;">Високі продажі</span>
  <span class="t" style="left:2965.40px;top:594.25px;font-size:18.47px;color:#c9c9c9;letter-spacing:0.225px;">+50 балів</span>
</section>
<section class="card" style="left:656px;top:713.75px;width:2576px;height:803.75px"></section>
<section class="score">
  <svg style="left:692.00px;top:753.25px" width="28.00" height="28.00" viewBox="0 0 24 24" ><path d="M19 3H5c-1.1 0-2 .9-2 2v14c0 1.1.9 2 2 2h14c1.1 0 2-.9 2-2V5c0-1.1-.9-2-2-2zm-5.970 4.060L14.090 6l1.410 1.410L16.910 6l1.060 1.060-1.410 1.410 1.410 1.410-1.060 1.060-1.410-1.400-1.410 1.410-1.060-1.060 1.410-1.410-1.410-1.420zm-6.780.660h5v1.500h-5v-1.500zM11.500 16h-2v2H8v-2H6v-1.500h2v-2h1.500v2h2V16zm6.500 1.250h-5v-1.500h5v1.500zm0-2.500h-5v-1.500h5v1.500z" fill="#74c1f4"/></svg>
  <h2><span class="t" style="left:744.00px;top:750.25px;font-size:34.51px;color:#1c1c1c;letter-spacing:0.775px;">Score calculator</span></h2>
  <span class="t" style="left:936.00px;top:819.00px;font-size:23.34px;color:#626262;letter-spacing:0.505px;">Number:</span><span class="t" style="left:1120.25px;top:819.00px;font-size:23.34px;color:#626262;letter-spacing:0.486px;">Points:</span>
  <span class="t" style="left:1604.00px;top:819.00px;font-size:23.34px;color:#626262;letter-spacing:0.505px;">Number:</span><span class="t" style="left:1788.25px;top:819.00px;font-size:23.34px;color:#626262;letter-spacing:0.527px;">Points:</span>
  <span class="t" style="left:692.00px;top:862.25px;font-size:23.34px;color:#626262;letter-spacing:0.301px;">Positive feedback</span><span class="t" style="left:693.00px;top:889.75px;font-size:23.34px;color:#626262;letter-spacing:0.452px;">from parents</span>
  <span class="t" style="left:692.00px;top:967.75px;font-size:23.34px;color:#626262;letter-spacing:0.299px;">Lessons were</span><span class="t" style="left:693.00px;top:995.25px;font-size:23.34px;color:#626262;letter-spacing:0.509px;">conducted</span>
  <span class="t" style="left:1359.75px;top:862.25px;font-size:23.34px;color:#626262;letter-spacing:0.293px;">Negative feedback</span><span class="t" style="left:1360.75px;top:890.00px;font-size:23.34px;color:#626262;letter-spacing:0.474px;">from parents</span>
  <span class="t" style="left:1360.75px;top:968.00px;font-size:23.34px;color:#626262;letter-spacing:0.570px;">Violation of school</span><span class="t" style="left:1359.75px;top:995.50px;font-size:23.34px;color:#626262;letter-spacing:0.479px;">regulations</span>
  <div class="inp" style="left:936.5px;top:860px;width:166.75px;height:72px"></div><div class="inp" style="left:1120.5px;top:860px;width:167.0px;height:72px"></div><div class="inp" style="left:1604.5px;top:860px;width:166.75px;height:72px"></div><div class="inp" style="left:1788.5px;top:860px;width:167.0px;height:72px"></div>
  <div class="inp" style="left:936.5px;top:954px;width:166.75px;height:72px"></div><div class="inp" style="left:1120.5px;top:954px;width:167.0px;height:72px"></div><div class="inp" style="left:1604.5px;top:954px;width:166.75px;height:72px"></div><div class="inp" style="left:1788.5px;top:954px;width:167.0px;height:72px"></div>
  <span class="t" style="left:959.50px;top:883.25px;font-size:27.1px;color:#1c1c1c;letter-spacing:1.182px;">20</span><span class="t" style="left:1143.50px;top:883.25px;font-size:27.1px;color:#1c1c1c;letter-spacing:0.305px;">+40</span><span class="t" style="left:1627.75px;top:882.75px;font-size:27.1px;color:#1c1c1c;">0</span><span class="t" style="left:1812.00px;top:882.75px;font-size:27.1px;color:#1c1c1c;">0</span>
  <span class="t" style="left:959.25px;top:977.00px;font-size:27.1px;color:#1c1c1c;letter-spacing:1.098px;">1787</span><span class="t" style="left:1143.50px;top:977.00px;font-size:27.1px;color:#1c1c1c;letter-spacing:0.646px;">+446.75</span><span class="t" style="left:1627.75px;top:976.50px;font-size:27.1px;color:#1c1c1c;">0</span><span class="t" style="left:1812.00px;top:976.50px;font-size:27.1px;color:#1c1c1c;">0</span>
  <svg style="left:698px;top:1080px" width="28" height="28" viewBox="0 0 28 28"><path d="M14 0.4V27.6M0.4 14H27.6" stroke="#5e3da8" stroke-width="4.6" fill="none"/></svg>
  <span class="t" style="left:742.50px;top:1080.00px;font-size:27.4px;color:#5e3da8;letter-spacing:0.470px;-webkit-text-stroke:0.7px #5e3da8;">Add points for my rewards</span>
  <div class="result" style="left:2074px;top:806px;width:1109.75px;height:370.5px"></div>
  <span class="t" style="left:2131.00px;top:945.75px;font-size:24.36px;color:#626262;letter-spacing:-0.108px;">Calculation result</span>
  <span class="t" style="left:2131.00px;top:988.00px;font-size:47.7px;color:#111c30;letter-spacing:0.395px;">486.75 points</span>
  <svg style="left:0;top:0" width="3260" height="1200" viewBox="0 0 3260 1200"><defs><linearGradient id="hg2" x1="0" y1="0" x2="1" y2="1"><stop offset="0" stop-color="#e3e3e3"/><stop offset="1" stop-color="#d6d6d6"/></linearGradient><radialGradient id="hg2e" cx=".4" cy=".35" r=".75"><stop offset="0" stop-color="#fdd766"/><stop offset="1" stop-color="#f4b544"/></radialGradient><clipPath id="hg2c"><path d="M2565.78 909.39 Q2568.75 907.79 2571.72 909.39 L2591.00 919.77 Q2595.75 922.33 2595.75 927.73 L2595.75 954.80 Q2595.75 959.52 2591.03 959.52 L2546.47 959.52 Q2541.75 959.52 2541.75 954.80 L2541.75 927.73 Q2541.75 922.33 2546.50 919.77Z"/></clipPath></defs><path d="M2565.54 901.80 Q2568.75 899.93 2571.96 901.80 L2599.29 917.70 Q2602.50 919.57 2602.50 923.28 L2602.50 955.12 Q2602.50 958.83 2599.29 960.70 L2571.96 976.60 Q2568.75 978.47 2565.54 976.60 L2538.21 960.70 Q2535.00 958.83 2535.00 955.12 L2535.00 923.28 Q2535.00 919.57 2538.21 917.70Z" fill="url(#hg2)"/><path d="M2583.94 911.60 L2599.80 921.95 L2599.80 926.55 L2578.88 912.36Z" fill="#f0f0f0" opacity=".55"/><path d="M2537.36 943.03 L2541.07 940.73 V950.70 L2537.36 953.00Z" fill="#f0f0f0" opacity=".5"/><path d="M2565.78 909.39 Q2568.75 907.79 2571.72 909.39 L2591.00 919.77 Q2595.75 922.33 2595.75 927.73 L2595.75 954.80 Q2595.75 959.52 2591.03 959.52 L2546.47 959.52 Q2541.75 959.52 2541.75 954.80 L2541.75 927.73 Q2541.75 922.33 2546.50 919.77Z" fill="#fbfbfb" stroke="#6f6f6f" stroke-width="0.95" stroke-linejoin="round"/><g clip-path="url(#hg2c)"><path d="M2578.44 930.52 L2679.69 1031.77 L2660.98 1050.48 L2559.73 949.23Z" fill="#dadada"/></g><circle cx="2569.09" cy="939.88" r="13.23" fill="url(#hg2e)"/><circle cx="2564.32" cy="936.96" r="1.32" fill="#4e342e"/><circle cx="2573.85" cy="936.96" r="1.32" fill="#4e342e"/><path d="M2562.47 942.26 Q2569.09 950.19 2575.70 942.26" fill="none" stroke="#4e342e" stroke-width="1.72" stroke-linecap="round"/></svg>
  <svg style="left:0;top:0" width="3260" height="1200" viewBox="0 0 3260 1200"><defs><linearGradient id="hg3" x1="0" y1="0" x2="1" y2="1"><stop offset="0" stop-color="#dfe7eb"/><stop offset="1" stop-color="#cfdae1"/></linearGradient><radialGradient id="hg3e" cx=".4" cy=".35" r=".75"><stop offset="0" stop-color="#fdd766"/><stop offset="1" stop-color="#f4b544"/></radialGradient><clipPath id="hg3c"><path d="M2737.83 886.20 Q2743.00 883.42 2748.17 886.20 L2781.72 904.28 Q2790.00 908.73 2790.00 918.13 L2790.00 965.25 Q2790.00 973.47 2781.78 973.47 L2704.22 973.47 Q2696.00 973.47 2696.00 965.25 L2696.00 918.13 Q2696.00 908.73 2704.28 904.28Z"/></clipPath></defs><path d="M2737.41 872.99 Q2743.00 869.74 2748.59 872.99 L2796.16 900.67 Q2801.75 903.92 2801.75 910.38 L2801.75 965.82 Q2801.75 972.28 2796.16 975.53 L2748.59 1003.21 Q2743.00 1006.46 2737.41 1003.21 L2689.84 975.53 Q2684.25 972.28 2684.25 965.82 L2684.25 910.38 Q2684.25 903.92 2689.84 900.67Z" fill="url(#hg3)"/><path d="M2769.44 890.05 L2797.05 908.07 L2797.05 916.08 L2760.62 891.38Z" fill="#eef3f6" opacity=".55"/><path d="M2688.36 944.77 L2694.82 940.77 V958.12 L2688.36 962.13Z" fill="#eef3f6" opacity=".5"/><path d="M2737.83 886.20 Q2743.00 883.42 2748.17 886.20 L2781.72 904.28 Q2790.00 908.73 2790.00 918.13 L2790.00 965.25 Q2790.00 973.47 2781.78 973.47 L2704.22 973.47 Q2696.00 973.47 2696.00 965.25 L2696.00 918.13 Q2696.00 908.73 2704.28 904.28Z" fill="#e7eaf1" stroke="#8f94aa" stroke-width="1.65" stroke-linejoin="round"/><g clip-path="url(#hg3c)"><path d="M2759.87 922.99 L2936.12 1099.24 L2903.55 1131.81 L2727.30 955.56Z" fill="#cfd3de"/></g><circle cx="2743.59" cy="939.27" r="23.03" fill="url(#hg3e)"/><path d="M2729.31 934.21 Q2734.38 939.27 2739.44 934.21" fill="none" stroke="#4e342e" stroke-width="2.07" stroke-linecap="round"/><ellipse cx="2726.55" cy="942.04" rx="3.92" ry="2.99" fill="#f7a6ae"/><path d="M2757.87 934.21 Q2752.80 939.27 2747.73 934.21" fill="none" stroke="#4e342e" stroke-width="2.07" stroke-linecap="round"/><ellipse cx="2760.63" cy="942.04" rx="3.92" ry="2.99" fill="#f7a6ae"/><path d="M2731.61 943.42 Q2743.59 957.70 2755.56 943.42" fill="none" stroke="#4e342e" stroke-width="2.99" stroke-linecap="round"/><path d="M2761.55 913.02 Q2761.55 921.31 2769.84 921.31 Q2761.55 921.31 2761.55 929.60 Q2761.55 921.31 2753.26 921.31 Q2761.55 921.31 2761.55 913.02Z" fill="#fff" stroke="#fff" stroke-width="2.07" stroke-linejoin="round"/><path d="M2736.68 912.33 Q2736.68 917.40 2741.75 917.40 Q2736.68 917.40 2736.68 922.46 Q2736.68 917.40 2731.61 917.40 Q2736.68 917.40 2736.68 912.33Z" fill="#fff" stroke="#fff" stroke-width="1.27" stroke-linejoin="round"/></svg>
  <svg style="left:0;top:0" width="3260" height="1200" viewBox="0 0 3260 1200"><defs><linearGradient id="hg4" x1="0" y1="0" x2="1" y2="1"><stop offset="0" stop-color="#fdc942"/><stop offset="1" stop-color="#f7bb38"/></linearGradient><radialGradient id="hg4e" cx=".4" cy=".35" r=".75"><stop offset="0" stop-color="#fdd766"/><stop offset="1" stop-color="#f4b544"/></radialGradient><clipPath id="hg4c"><path d="M2914.10 909.28 Q2917.10 907.66 2920.10 909.28 L2939.58 919.77 Q2944.38 922.36 2944.38 927.81 L2944.38 955.16 Q2944.38 959.93 2939.61 959.93 L2894.59 959.93 Q2889.82 959.93 2889.82 955.16 L2889.82 927.81 Q2889.82 922.36 2894.62 919.77Z"/></clipPath></defs><path d="M2913.86 901.61 Q2917.10 899.72 2920.34 901.61 L2947.96 917.68 Q2951.20 919.56 2951.20 923.31 L2951.20 955.49 Q2951.20 959.24 2947.96 961.12 L2920.34 977.19 Q2917.10 979.08 2913.86 977.19 L2886.24 961.12 Q2883.00 959.24 2883.00 955.49 L2883.00 923.31 Q2883.00 919.56 2886.24 917.68Z" fill="url(#hg4)"/><path d="M2932.44 911.51 L2948.47 921.97 L2948.47 926.62 L2927.33 912.28Z" fill="#fde08a" opacity=".55"/><path d="M2885.39 943.27 L2889.14 940.95 V951.02 L2885.39 953.35Z" fill="#fde08a" opacity=".5"/><path d="M2914.10 909.28 Q2917.10 907.66 2920.10 909.28 L2939.58 919.77 Q2944.38 922.36 2944.38 927.81 L2944.38 955.16 Q2944.38 959.93 2939.61 959.93 L2894.59 959.93 Q2889.82 959.93 2889.82 955.16 L2889.82 927.81 Q2889.82 922.36 2894.62 919.77Z" fill="#fff1cf" stroke="#9c701c" stroke-width="0.95" stroke-linejoin="round"/><g clip-path="url(#hg4c)"><path d="M2926.89 930.63 L3029.19 1032.93 L3010.29 1051.83 L2907.99 949.53Z" fill="#ecd9a8"/></g><circle cx="2917.44" cy="940.08" r="13.37" fill="url(#hg4e)"/><ellipse cx="2912.36" cy="936.87" rx="0.83" ry="1.54" fill="#4e342e"/><ellipse cx="2922.52" cy="936.87" rx="0.83" ry="1.54" fill="#4e342e"/><clipPath id="hg4m"><path d="M2907.82 941.69 H2927.07 A9.62 8.82 0 0 1 2907.82 941.69Z"/></clipPath><path d="M2907.82 941.69 H2927.07 A9.62 8.82 0 0 1 2907.82 941.69Z" fill="#5a3a30"/><ellipse clip-path="url(#hg4m)" cx="2917.44" cy="950.78" rx="5.61" ry="4.01" fill="#f3616d"/></svg>
  <svg style="left:0;top:0" width="3260" height="1200" viewBox="0 0 3260 1200"><defs><linearGradient id="hg5" x1="0" y1="0" x2="1" y2="1"><stop offset="0" stop-color="#83cff5"/><stop offset="1" stop-color="#62bdec"/></linearGradient><radialGradient id="hg5e" cx=".4" cy=".35" r=".75"><stop offset="0" stop-color="#fdd766"/><stop offset="1" stop-color="#f4b544"/></radialGradient><clipPath id="hg5c"><path d="M3088.01 909.37 Q3091.00 907.75 3093.99 909.37 L3113.41 919.83 Q3118.20 922.41 3118.20 927.85 L3118.20 955.11 Q3118.20 959.87 3113.44 959.87 L3068.56 959.87 Q3063.80 959.87 3063.80 955.11 L3063.80 927.85 Q3063.80 922.41 3068.59 919.83Z"/></clipPath></defs><path d="M3087.77 901.72 Q3091.00 899.84 3094.23 901.72 L3121.77 917.74 Q3125.00 919.62 3125.00 923.36 L3125.00 955.44 Q3125.00 959.18 3121.77 961.06 L3094.23 977.08 Q3091.00 978.96 3087.77 977.08 L3060.23 961.06 Q3057.00 959.18 3057.00 955.44 L3057.00 923.36 Q3057.00 919.62 3060.23 917.74Z" fill="url(#hg5)"/><path d="M3106.30 911.59 L3122.28 922.02 L3122.28 926.65 L3101.20 912.36Z" fill="#b5e3fa" opacity=".55"/><path d="M3059.38 943.26 L3063.12 940.94 V950.99 L3059.38 953.30Z" fill="#b5e3fa" opacity=".5"/><path d="M3088.01 909.37 Q3091.00 907.75 3093.99 909.37 L3113.41 919.83 Q3118.20 922.41 3118.20 927.85 L3118.20 955.11 Q3118.20 959.87 3113.44 959.87 L3068.56 959.87 Q3063.80 959.87 3063.80 955.11 L3063.80 927.85 Q3063.80 922.41 3068.59 919.83Z" fill="#e9f6fd" stroke="#154a6e" stroke-width="0.95" stroke-linejoin="round"/><g clip-path="url(#hg5c)"><path d="M3100.76 930.66 L3202.76 1032.66 L3183.92 1051.50 L3081.92 949.50Z" fill="#bfe0f3"/></g><circle cx="3091.34" cy="940.08" r="13.33" fill="url(#hg5e)"/><path d="M3079.08 934.48 H3103.60 L3102.00 940.35 Q3097.34 943.01 3092.94 937.68 H3089.74 Q3085.34 943.01 3080.68 940.35Z" fill="#1f1f24"/><path d="M3085.74 944.88 Q3091.34 950.74 3096.94 944.88" fill="none" stroke="#4e342e" stroke-width="1.73" stroke-linecap="round"/><path d="M3100.67 927.82 Q3100.67 931.82 3104.67 931.82 Q3100.67 931.82 3100.67 935.82 Q3100.67 931.82 3096.67 931.82 Q3100.67 931.82 3100.67 927.82Z" fill="#fff" stroke="#fff" stroke-width="1.20" stroke-linejoin="round"/><path d="M3104.00 943.95 Q3104.00 947.41 3107.47 947.41 Q3104.00 947.41 3104.00 950.88 Q3104.00 947.41 3100.54 947.41 Q3104.00 947.41 3104.00 943.95Z" fill="#fff" stroke="#fff" stroke-width="1.04" stroke-linejoin="round"/></svg>
  <div class="lab s" style="left:2540px;top:957px;width:57.5px;height:16.75px"></div>
  <div class="lab" style="left:2693px;top:968.25px;width:100px;height:28.5px;border-radius:4px"></div>
  <div class="lab s" style="left:2888px;top:957px;width:58.25px;height:16.75px"></div>
  <div class="lab s" style="left:3061.75px;top:957px;width:58.25px;height:16.75px"></div>
  <span class="t" style="left:2556.25px;top:959.00px;font-size:10.76px;color:#111c30;letter-spacing:-0.478px;">Basic</span>
  <span class="t" style="left:2720.75px;top:973.25px;font-size:18.27px;color:#111c30;letter-spacing:-0.418px;">Silver</span>
  <span class="t" style="left:2906.25px;top:959.00px;font-size:10.76px;color:#111c30;letter-spacing:-0.660px;">Gold</span>
  <span class="t" style="left:3069.50px;top:959.00px;font-size:10.76px;color:#111c30;letter-spacing:-0.217px;">Premium</span>
  <svg style="left:0;top:0" width="3260" height="1200" viewBox="0 0 3260 1200"><line x1="2567" y1="1050.75" x2="3089" y2="1050.75" stroke="#ece6f7" stroke-width="8.25"/><line x1="2567" y1="1050.75" x2="2847.6" y2="1050.75" stroke="#5e3da8" stroke-width="8.25" stroke-linecap="round"/><polygon points="2567.00,1035.65 2580.20,1043.20 2580.20,1058.30 2567.00,1065.85 2553.80,1058.30 2553.80,1043.20" fill="#2f1c8f" stroke="#2f1c8f" stroke-width="1" stroke-linejoin="round"/><polygon points="2567.00,1042.05 2574.60,1046.40 2574.60,1055.10 2567.00,1059.45 2559.40,1055.10 2559.40,1046.40" fill="#a57cf6"/><polygon points="2740.75,1035.65 2753.95,1043.20 2753.95,1058.30 2740.75,1065.85 2727.55,1058.30 2727.55,1043.20" fill="#2f1c8f" stroke="#2f1c8f" stroke-width="1" stroke-linejoin="round"/><polygon points="2740.75,1042.05 2748.35,1046.40 2748.35,1055.10 2740.75,1059.45 2733.15,1055.10 2733.15,1046.40" fill="#a57cf6"/><polygon points="2915.00,1035.65 2928.20,1043.20 2928.20,1058.30 2915.00,1065.85 2901.80,1058.30 2901.80,1043.20" fill="#2f1c8f" stroke="#2f1c8f" stroke-width="1" stroke-linejoin="round"/><polygon points="2915.00,1042.05 2922.60,1046.40 2922.60,1055.10 2915.00,1059.45 2907.40,1055.10 2907.40,1046.40" fill="#ebe5f7"/><polygon points="3089.00,1035.65 3102.20,1043.20 3102.20,1058.30 3089.00,1065.85 3075.80,1058.30 3075.80,1043.20" fill="#2f1c8f" stroke="#2f1c8f" stroke-width="1" stroke-linejoin="round"/><polygon points="3089.00,1042.05 3096.60,1046.40 3096.60,1055.10 3089.00,1059.45 3081.40,1055.10 3081.40,1046.40" fill="#ebe5f7"/></svg>
  <span class="t" style="left:2533.50px;top:1079.75px;font-size:19.79px;color:#9e9e9e;letter-spacing:0.156px;">Payment for the lesson:</span>
  <span class="t" style="left:2523.50px;top:1103.25px;font-size:27.1px;color:#111c30;letter-spacing:0.057px;">150</span><span class="t" style="left:2574.50px;top:1112.75px;font-size:19.79px;color:#9e9e9e;letter-spacing:-0.865px;">UAH</span>
  <span class="t" style="left:2696.75px;top:1103.25px;font-size:27.1px;color:#2d1b8e;letter-spacing:1.682px;-webkit-text-stroke:0.7px #2d1b8e;">175</span><span class="t" style="left:2748.50px;top:1112.75px;font-size:19.79px;color:#2d1b8e;letter-spacing:-0.490px;">UAH</span>
  <span class="t" style="left:2871.50px;top:1103.25px;font-size:27.1px;color:#111c30;letter-spacing:0.432px;">200</span><span class="t" style="left:2922.25px;top:1112.75px;font-size:19.79px;color:#9e9e9e;letter-spacing:-0.490px;">UAH</span>
  <span class="t" style="left:3045.75px;top:1103.25px;font-size:27.1px;color:#111c30;letter-spacing:0.182px;">250</span><span class="t" style="left:3096.50px;top:1112.75px;font-size:19.79px;color:#9e9e9e;letter-spacing:-0.615px;">UAH</span>
  <div class="tip" style="left:704px;top:1226px;width:2479.5px;height:245.25px"></div>
  <svg style="left:690px;top:1140px" width="300" height="340" viewBox="0 0 1200 1360">
<g stroke-linecap="round" stroke-linejoin="round" fill="none">
<path d="M352 880 Q322 870 300 850 Q268 818 296 800 Q326 790 326 818 Q318 838 300 826" stroke="#3a3745" stroke-width="4"/>
<path d="M404 846 Q470 770 600 790 L655 738 L668 806 Q720 860 722 930 L742 940 Q748 978 702 986 Q690 1040 628 1074 L624 1108 Q622 1132 600 1132 Q578 1132 576 1108 L574 1084 L472 1084 L470 1108 Q468 1132 447 1132 Q426 1132 424 1108 L422 1064 Q350 1010 342 930 Q344 880 404 846Z" fill="#fff" stroke="#c9c9c9" stroke-width="2.5"/>
<path d="M404 872 Q366 930 384 990 Q404 1040 448 1066 L448 1108 M448 1066 Q520 1084 598 1066 L598 1108" stroke="#e4e4e4" stroke-width="36"/>
<path d="M404 846 Q344 880 342 930 Q350 1010 422 1064 L424 1108 Q426 1132 447 1132 Q468 1132 470 1108 L472 1084 L574 1084 L576 1108 Q578 1132 600 1132 Q622 1132 624 1108 L628 1074" stroke="#c9c9c9" stroke-width="2.5"/>
<ellipse cx="545" cy="790" rx="66" ry="9" fill="#dadada" stroke="#a9a9a9" stroke-width="2"/>
<path d="M646 873 H680" stroke="#3a3745" stroke-width="5"/>
<path d="M722 868 Q716 910 710 944 Q744 930 744 958 Q740 980 702 984" stroke="#2c2a36" stroke-width="4.5"/>
<circle cx="338" cy="615" r="49" fill="#5b3fb4" stroke="none"/>
<path d="M282 622 Q262 570 310 552 Q362 536 386 580" stroke="#2c2a36" stroke-width="3"/>
<path d="M340 600 q14 -8 22 2 M352 626 q10 -2 14 6" stroke="#3d2a8a" stroke-width="2.5"/>
<path d="M322 712 L388 686 L400 700 L466 668 L478 692 L420 720 L430 742 L486 722 L494 746 L442 768 L450 790 L508 770 L516 796 L508 826 L374 840 Q352 842 346 822 L318 732 Q314 718 322 712Z" fill="#2d2a40" stroke="#2d2a40" stroke-width="6"/>
<path d="M452 668 L474 660 L482 684 L462 694Z M474 724 L494 716 L500 740 L482 748Z" fill="#5b3fb4" stroke="#5b3fb4" stroke-width="4"/>
<path d="M372 690 l14 26" stroke="#e9e6f5" stroke-width="3"/>
<circle cx="530" cy="692" r="66" stroke="#f2a05c" stroke-width="2"/>
<circle cx="530" cy="692" r="58" fill="#fcb65e" stroke="none"/>
</g>
<text x="530" y="724" font-family="Liberation Sans, sans-serif" font-weight="700" font-size="84" text-anchor="middle" fill="#5a2d0c">$</text>
</svg>
  <svg style="left:954.07px;top:1259.07px" width="28.10" height="28.10" viewBox="0 0 24 24" ><path d="M12 22c1.1 0 2-.9 2-2h-4c0 1.1.89 2 2 2zm6-6v-5c0-3.07-1.64-5.64-4.5-6.32V4c0-.83-.67-1.5-1.500-1.500s-1.500.670-1.500 1.500v.68C7.630 5.360 6 7.920 6 11v5l-2 2v1h16v-1l-2-2z" fill="#fa7228"/></svg>
  <span class="t" style="left:1003.75px;top:1255.50px;font-size:34.0px;color:#f0742c;letter-spacing:0.898px;">Because of</span>
  <span class="t" style="left:952.00px;top:1326.75px;font-size:26.39px;color:#616161;letter-spacing:0.638px;">September and October are an opportunity to reach a new level of earnings! All that is needed is to open more hours in order to build a student base for the entire school year</span>
  <span class="t" style="left:952.00px;top:1402.75px;font-size:23.34px;color:#1565c0;letter-spacing:0.317px;">Preliminary advice</span>
  <span class="t" style="left:3066.80px;top:1403.00px;font-size:23.34px;color:#1565c0;letter-spacing:0.670px;">Next tip</span>
</section>
<section class="card" style="left:656px;top:1550px;width:2576px;height:205.75px"></section>
<section class="stats">
  <svg style="left:687.50px;top:1589.50px" width="28.00" height="28.00" viewBox="0 0 24 24" ><path d="M19 3H5c-1.1 0-2 .9-2 2v14c0 1.1.9 2 2 2h14c1.1 0 2-.9 2-2V5c0-1.1-.9-2-2-2zM9 17H7v-7h2v7zm4 0h-2V7h2v10zm4 0h-2v-4h2v4z" fill="#74c1f4"/></svg>
  <h2><span class="t" style="left:739.50px;top:1585.00px;font-size:34.51px;color:#1c1c1c;letter-spacing:1.246px;">Statistics</span></h2>
  <svg style="left:3168.60px;top:1575.50px" width="28.50" height="28.50" viewBox="0 0 24 24" ><path d="M3 17.25V21h3.750L17.810 9.940l-3.750-3.750L3 17.250zM20.710 7.040c.39-.39.39-1.020 0-1.410l-2.340-2.340c-.39-.39-1.020-.39-1.410 0l-1.830 1.830 3.750 3.750 1.830-1.830z" fill="#5f3eb4"/></svg>
  <span class="t" style="left:688.75px;top:1658.50px;font-size:23.34px;color:#626262;letter-spacing:0.217px;">Available hours during the week:</span>
  <span class="t" style="left:687.50px;top:1693.25px;font-size:27.1px;color:#111c30;letter-spacing:0.446px;">1 hours</span>
  <span class="t" style="left:1191.50px;top:1658.50px;font-size:23.34px;color:#626262;letter-spacing:0.327px;">Feedback from parents:</span>
  <span class="t" style="left:1191.50px;top:1693.25px;font-size:27.1px;color:#43a047;letter-spacing:0.629px;">20 positive</span>
  <span class="t" style="left:1635.75px;top:1658.50px;font-size:23.34px;color:#626262;letter-spacing:0.327px;">Feedback from parents:</span>
  <span class="t" style="left:1635.75px;top:1693.25px;font-size:27.1px;color:#d43d3d;letter-spacing:0.370px;">0 is negative</span>
  <span class="t" style="left:2057.00px;top:1658.50px;font-size:23.34px;color:#626262;letter-spacing:0.464px;">Violation of regulations:</span>
  <span class="t" style="left:2056.50px;top:1693.25px;font-size:27.1px;color:#111c30;">0</span>
</section>
<div class="frame"></div>
</body></html>
